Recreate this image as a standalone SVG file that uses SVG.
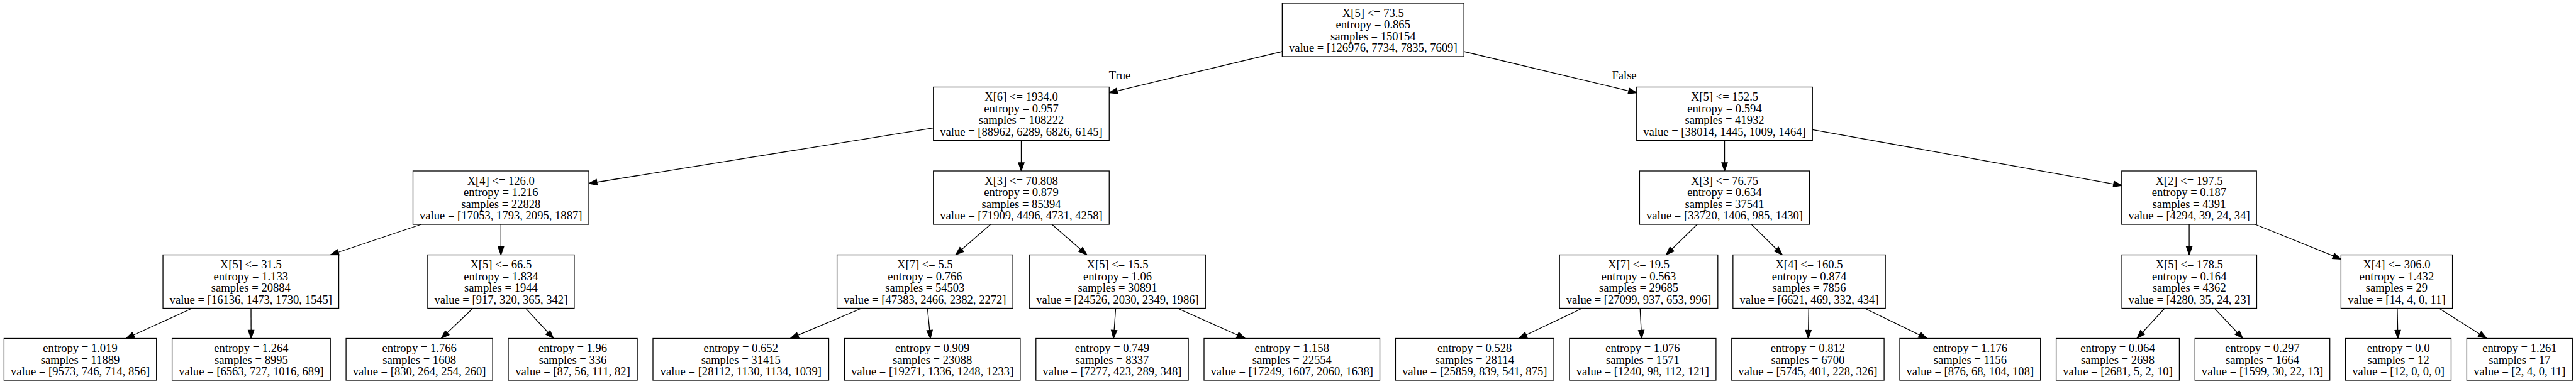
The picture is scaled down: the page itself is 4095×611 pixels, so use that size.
<svg xmlns="http://www.w3.org/2000/svg" width="4095" height="611" viewBox="0 0 4095 611">
<style>
rect.nd{fill:#ffffff;stroke:#000000;stroke-width:1.3}
text{font-family:"Liberation Serif","Times New Roman",serif;font-size:18.6px;text-anchor:middle;fill:#000000}
.edges line{stroke:#000000;stroke-width:1.3;fill:none;marker-end:url(#arr)}
</style>
<defs>
<marker id="arr" markerWidth="14" markerHeight="10" refX="13" refY="4.5" orient="auto" markerUnits="userSpaceOnUse" overflow="visible">
<path d="M0,0 L13,4.5 L0,9 Z" fill="#000000" stroke="#000000" stroke-width="1.3"/>
</marker>
</defs>
<rect x="0" y="0" width="4095" height="611" fill="#ffffff"/>
<g class="edges">
<line x1="2038.35" y1="82" x2="1763.25" y2="147.6"/>
<line x1="2327.15" y1="82" x2="2601.75" y2="147.6"/>
<line x1="1483.75" y1="203.6" x2="936" y2="292"/>
<line x1="1623.5" y1="223.5" x2="1623.5" y2="272"/>
<line x1="2741.5" y1="223.5" x2="2741.5" y2="272"/>
<line x1="2881.25" y1="206.3" x2="3372.8" y2="295.1"/>
<line x1="669.7" y1="357" x2="525.35" y2="405.5"/>
<line x1="796.3" y1="357" x2="796.3" y2="405.5"/>
<line x1="1574.7" y1="357" x2="1519.1" y2="405.5"/>
<line x1="1672.2" y1="357" x2="1727.8" y2="405.5"/>
<line x1="2698" y1="357" x2="2648.5" y2="405.5"/>
<line x1="2784.3" y1="357" x2="2833.2" y2="405.5"/>
<line x1="3480.1" y1="357" x2="3480.1" y2="405.5"/>
<line x1="3585.1" y1="357" x2="3721.4" y2="412.2"/>
<line x1="305.65" y1="490.5" x2="200.4" y2="538.5"/>
<line x1="399" y1="490.5" x2="399.2" y2="538.5"/>
<line x1="751.8" y1="490.5" x2="701.5" y2="538.5"/>
<line x1="835.6" y1="490.5" x2="879.9" y2="538.5"/>
<line x1="1369.9" y1="490.5" x2="1256.4" y2="538.5"/>
<line x1="1474.4" y1="490.5" x2="1479" y2="538.5"/>
<line x1="1773.6" y1="490.5" x2="1770.2" y2="538.5"/>
<line x1="1871.7" y1="490.5" x2="1979.3" y2="538.5"/>
<line x1="2515.4" y1="490.5" x2="2414.3" y2="538.5"/>
<line x1="2607.2" y1="490.5" x2="2609.7" y2="538.5"/>
<line x1="2875.3" y1="490.5" x2="2874.5" y2="538.5"/>
<line x1="2963.9" y1="490.5" x2="3063.1" y2="538.5"/>
<line x1="3441.2" y1="490.5" x2="3397.1" y2="538.5"/>
<line x1="3520.2" y1="490.5" x2="3565.3" y2="538.5"/>
<line x1="3810.9" y1="490.5" x2="3811.9" y2="538.5"/>
<line x1="3877.1" y1="490.5" x2="3952.9" y2="538.5"/>
<text x="1780" y="126">True</text>
<text x="2582" y="126">False</text>
</g>
<g id="node0"><rect class="nd" x="2038.35" y="5" width="288.8" height="85"/><text x="2182.75" y="26.5">X[5] &lt;= 73.5<tspan x="2182.75" dy="18.5">entropy = 0.865</tspan><tspan x="2182.75" dy="18.5">samples = 150154</tspan><tspan x="2182.75" dy="18.5">value = [126976, 7734, 7835, 7609]</tspan></text></g>
<g id="node1"><rect class="nd" x="1483.75" y="138.5" width="279.5" height="85"/><text x="1623.5" y="160">X[6] &lt;= 1934.0<tspan x="1623.5" dy="18.5">entropy = 0.957</tspan><tspan x="1623.5" dy="18.5">samples = 108222</tspan><tspan x="1623.5" dy="18.5">value = [88962, 6289, 6826, 6145]</tspan></text></g>
<g id="node2"><rect class="nd" x="2601.75" y="138.5" width="279.5" height="85"/><text x="2741.5" y="160">X[5] &lt;= 152.5<tspan x="2741.5" dy="18.5">entropy = 0.594</tspan><tspan x="2741.5" dy="18.5">samples = 41932</tspan><tspan x="2741.5" dy="18.5">value = [38014, 1445, 1009, 1464]</tspan></text></g>
<g id="node3"><rect class="nd" x="656.5" y="272" width="279.5" height="85"/><text x="796.25" y="293.5">X[4] &lt;= 126.0<tspan x="796.25" dy="18.5">entropy = 1.216</tspan><tspan x="796.25" dy="18.5">samples = 22828</tspan><tspan x="796.25" dy="18.5">value = [17053, 1793, 2095, 1887]</tspan></text></g>
<g id="node4"><rect class="nd" x="1483.75" y="272" width="279.5" height="85"/><text x="1623.5" y="293.5">X[3] &lt;= 70.808<tspan x="1623.5" dy="18.5">entropy = 0.879</tspan><tspan x="1623.5" dy="18.5">samples = 85394</tspan><tspan x="1623.5" dy="18.5">value = [71909, 4496, 4731, 4258]</tspan></text></g>
<g id="node5"><rect class="nd" x="2606.4" y="272" width="270.2" height="85"/><text x="2741.5" y="293.5">X[3] &lt;= 76.75<tspan x="2741.5" dy="18.5">entropy = 0.634</tspan><tspan x="2741.5" dy="18.5">samples = 37541</tspan><tspan x="2741.5" dy="18.5">value = [33720, 1406, 985, 1430]</tspan></text></g>
<g id="node6"><rect class="nd" x="3372.8" y="272" width="214.4" height="85"/><text x="3480" y="293.5">X[2] &lt;= 197.5<tspan x="3480" dy="18.5">entropy = 0.187</tspan><tspan x="3480" dy="18.5">samples = 4391</tspan><tspan x="3480" dy="18.5">value = [4294, 39, 24, 34]</tspan></text></g>
<g id="node7"><rect class="nd" x="259.05" y="405.5" width="279.5" height="85"/><text x="398.8" y="427">X[5] &lt;= 31.5<tspan x="398.8" dy="18.5">entropy = 1.133</tspan><tspan x="398.8" dy="18.5">samples = 20884</tspan><tspan x="398.8" dy="18.5">value = [16136, 1473, 1730, 1545]</tspan></text></g>
<g id="node8"><rect class="nd" x="679.9" y="405.5" width="233" height="85"/><text x="796.4" y="427">X[5] &lt;= 66.5<tspan x="796.4" dy="18.5">entropy = 1.834</tspan><tspan x="796.4" dy="18.5">samples = 1944</tspan><tspan x="796.4" dy="18.5">value = [917, 320, 365, 342]</tspan></text></g>
<g id="node9"><rect class="nd" x="1330.6" y="405.5" width="279.5" height="85"/><text x="1470.35" y="427">X[7] &lt;= 5.5<tspan x="1470.35" dy="18.5">entropy = 0.766</tspan><tspan x="1470.35" dy="18.5">samples = 54503</tspan><tspan x="1470.35" dy="18.5">value = [47383, 2466, 2382, 2272]</tspan></text></g>
<g id="node10"><rect class="nd" x="1636.75" y="405.5" width="279.5" height="85"/><text x="1776.5" y="427">X[5] &lt;= 15.5<tspan x="1776.5" dy="18.5">entropy = 1.06</tspan><tspan x="1776.5" dy="18.5">samples = 30891</tspan><tspan x="1776.5" dy="18.5">value = [24526, 2030, 2349, 1986]</tspan></text></g>
<g id="node11"><rect class="nd" x="2479.2" y="405.5" width="251.6" height="85"/><text x="2605" y="427">X[7] &lt;= 19.5<tspan x="2605" dy="18.5">entropy = 0.563</tspan><tspan x="2605" dy="18.5">samples = 29685</tspan><tspan x="2605" dy="18.5">value = [27099, 937, 653, 996]</tspan></text></g>
<g id="node12"><rect class="nd" x="2754.85" y="405.5" width="242.3" height="85"/><text x="2876" y="427">X[4] &lt;= 160.5<tspan x="2876" dy="18.5">entropy = 0.874</tspan><tspan x="2876" dy="18.5">samples = 7856</tspan><tspan x="2876" dy="18.5">value = [6621, 469, 332, 434]</tspan></text></g>
<g id="node13"><rect class="nd" x="3373.05" y="405.5" width="214.4" height="85"/><text x="3480.25" y="427">X[5] &lt;= 178.5<tspan x="3480.25" dy="18.5">entropy = 0.164</tspan><tspan x="3480.25" dy="18.5">samples = 4362</tspan><tspan x="3480.25" dy="18.5">value = [4280, 35, 24, 23]</tspan></text></g>
<g id="node14"><rect class="nd" x="3721.4" y="405.5" width="177.2" height="85"/><text x="3810" y="427">X[4] &lt;= 306.0<tspan x="3810" dy="18.5">entropy = 1.432</tspan><tspan x="3810" dy="18.5">samples = 29</tspan><tspan x="3810" dy="18.5">value = [14, 4, 0, 11]</tspan></text></g>
<g id="leaf1"><rect class="nd" x="6.4" y="538.5" width="242.3" height="66.5"/><text x="127.55" y="560">entropy = 1.019<tspan x="127.55" dy="18.5">samples = 11889</tspan><tspan x="127.55" dy="18.5">value = [9573, 746, 714, 856]</tspan></text></g>
<g id="leaf2"><rect class="nd" x="273.6" y="538.5" width="251.6" height="66.5"/><text x="399.4" y="560">entropy = 1.264<tspan x="399.4" dy="18.5">samples = 8995</tspan><tspan x="399.4" dy="18.5">value = [6563, 727, 1016, 689]</tspan></text></g>
<g id="leaf3"><rect class="nd" x="550.1" y="538.5" width="233" height="66.5"/><text x="666.6" y="560">entropy = 1.766<tspan x="666.6" dy="18.5">samples = 1608</tspan><tspan x="666.6" dy="18.5">value = [830, 264, 254, 260]</tspan></text></g>
<g id="leaf4"><rect class="nd" x="808" y="538.5" width="205.1" height="66.5"/><text x="910.55" y="560">entropy = 1.96<tspan x="910.55" dy="18.5">samples = 336</tspan><tspan x="910.55" dy="18.5">value = [87, 56, 111, 82]</tspan></text></g>
<g id="leaf5"><rect class="nd" x="1038" y="538.5" width="279.5" height="66.5"/><text x="1177.75" y="560">entropy = 0.652<tspan x="1177.75" dy="18.5">samples = 31415</tspan><tspan x="1177.75" dy="18.5">value = [28112, 1130, 1134, 1039]</tspan></text></g>
<g id="leaf6"><rect class="nd" x="1342.4" y="538.5" width="279.5" height="66.5"/><text x="1482.15" y="560">entropy = 0.909<tspan x="1482.15" dy="18.5">samples = 23088</tspan><tspan x="1482.15" dy="18.5">value = [19271, 1336, 1248, 1233]</tspan></text></g>
<g id="leaf7"><rect class="nd" x="1646.8" y="538.5" width="242.3" height="66.5"/><text x="1767.95" y="560">entropy = 0.749<tspan x="1767.95" dy="18.5">samples = 8337</tspan><tspan x="1767.95" dy="18.5">value = [7277, 423, 289, 348]</tspan></text></g>
<g id="leaf8"><rect class="nd" x="1914" y="538.5" width="279.5" height="66.5"/><text x="2053.75" y="560">entropy = 1.158<tspan x="2053.75" dy="18.5">samples = 22554</tspan><tspan x="2053.75" dy="18.5">value = [17249, 1607, 2060, 1638]</tspan></text></g>
<g id="leaf9"><rect class="nd" x="2218.4" y="538.5" width="251.6" height="66.5"/><text x="2344.2" y="560">entropy = 0.528<tspan x="2344.2" dy="18.5">samples = 28114</tspan><tspan x="2344.2" dy="18.5">value = [25859, 839, 541, 875]</tspan></text></g>
<g id="leaf10"><rect class="nd" x="2494.9" y="538.5" width="233" height="66.5"/><text x="2611.4" y="560">entropy = 1.076<tspan x="2611.4" dy="18.5">samples = 1571</tspan><tspan x="2611.4" dy="18.5">value = [1240, 98, 112, 121]</tspan></text></g>
<g id="leaf11"><rect class="nd" x="2752.8" y="538.5" width="242.3" height="66.5"/><text x="2873.95" y="560">entropy = 0.812<tspan x="2873.95" dy="18.5">samples = 6700</tspan><tspan x="2873.95" dy="18.5">value = [5745, 401, 228, 326]</tspan></text></g>
<g id="leaf12"><rect class="nd" x="3020" y="538.5" width="223.7" height="66.5"/><text x="3131.85" y="560">entropy = 1.176<tspan x="3131.85" dy="18.5">samples = 1156</tspan><tspan x="3131.85" dy="18.5">value = [876, 68, 104, 108]</tspan></text></g>
<g id="leaf13"><rect class="nd" x="3268.6" y="538.5" width="195.8" height="66.5"/><text x="3366.5" y="560">entropy = 0.064<tspan x="3366.5" dy="18.5">samples = 2698</tspan><tspan x="3366.5" dy="18.5">value = [2681, 5, 2, 10]</tspan></text></g>
<g id="leaf14"><rect class="nd" x="3489.3" y="538.5" width="214.4" height="66.5"/><text x="3596.5" y="560">entropy = 0.297<tspan x="3596.5" dy="18.5">samples = 1664</tspan><tspan x="3596.5" dy="18.5">value = [1599, 30, 22, 13]</tspan></text></g>
<g id="leaf15"><rect class="nd" x="3728.6" y="538.5" width="167.9" height="66.5"/><text x="3812.55" y="560">entropy = 0.0<tspan x="3812.55" dy="18.5">samples = 12</tspan><tspan x="3812.55" dy="18.5">value = [12, 0, 0, 0]</tspan></text></g>
<g id="leaf16"><rect class="nd" x="3921.4" y="538.5" width="167.9" height="66.5"/><text x="4005.35" y="560">entropy = 1.261<tspan x="4005.35" dy="18.5">samples = 17</tspan><tspan x="4005.35" dy="18.5">value = [2, 4, 0, 11]</tspan></text></g>
</svg>
